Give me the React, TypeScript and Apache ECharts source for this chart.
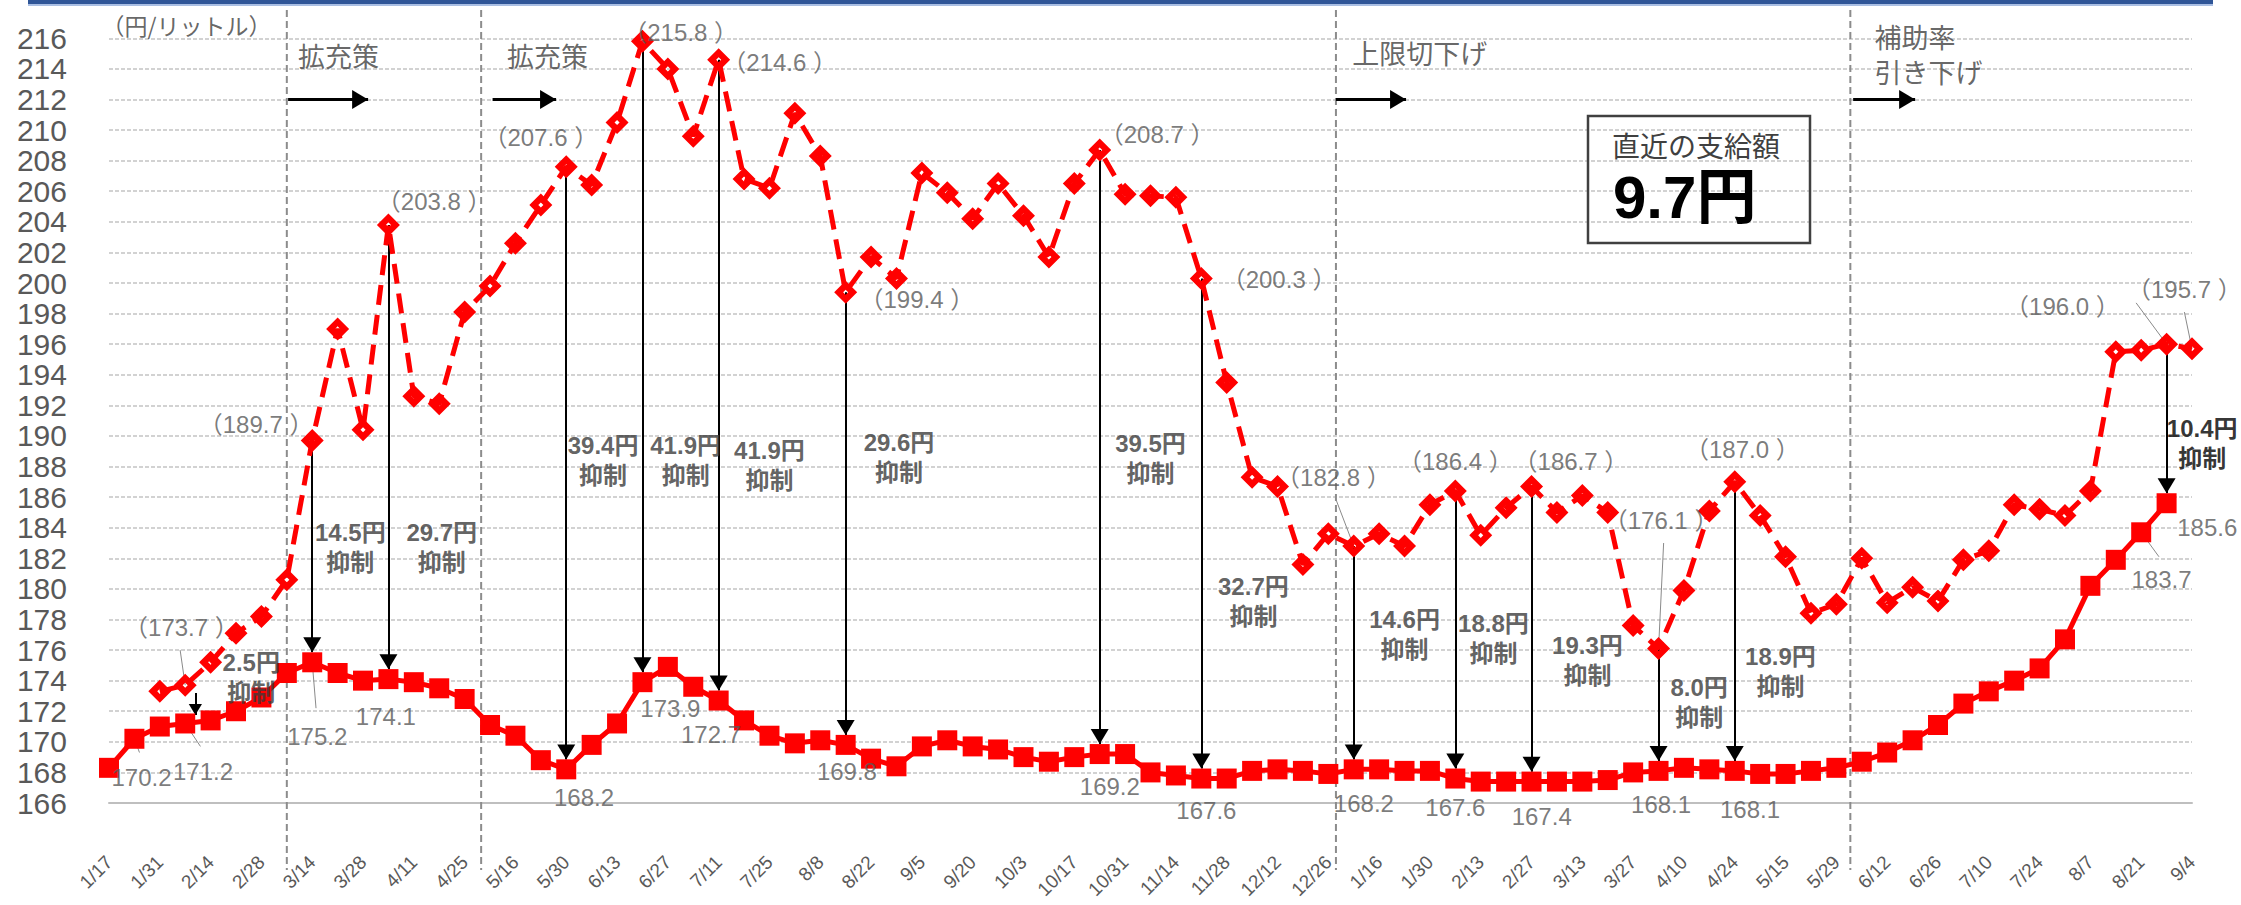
import React, { useEffect, useRef } from 'react';
import * as echarts from 'echarts';

// ---------- data ----------
const dates = ['1/17','1/24','1/31','2/7','2/14','2/21','2/28','3/7','3/14','3/22','3/28','4/4','4/11','4/18','4/25','5/9','5/16','5/23','5/30','6/6','6/13','6/20','6/27','7/4','7/11','7/19','7/25','8/1','8/8','8/15','8/22','8/29','9/5','9/12','9/20','9/26','10/3','10/11','10/17','10/24','10/31','11/7','11/14','11/21','11/28','12/5','12/12','12/19','12/26','1/10','1/16','1/23','1/30','2/6','2/13','2/20','2/27','3/6','3/13','3/20','3/27','4/3','4/10','4/17','4/24','5/8','5/15','5/22','5/29','6/5','6/12','6/19','6/26','7/3','7/10','7/18','7/24','7/31','8/7','8/14','8/21','8/28','9/4'];

// price without subsidy (dashed)
const priceWithout = [null, null, 173.3, 173.7, 175.2, 177.1, 178.2, 180.6, 189.7, 197.0, 190.4, 203.8, 192.6, 192.1, 198.1, 199.8, 202.6, 205.1, 207.6, 206.4, 210.5, 215.8, 214.0, 209.6, 214.6, 206.8, 206.2, 211.1, 208.3, 199.4, 201.7, 200.3, 207.2, 205.9, 204.2, 206.5, 204.4, 201.7, 206.5, 208.7, 205.8, 205.7, 205.6, 200.3, 193.5, 187.3, 186.7, 181.6, 183.6, 182.8, 183.6, 182.8, 185.5, 186.4, 183.5, 185.3, 186.7, 185.0, 186.1, 185.0, 177.6, 176.1, 179.9, 185.1, 187.0, 184.8, 182.1, 178.4, 179.0, 182.0, 179.1, 180.1, 179.2, 181.9, 182.5, 185.5, 185.2, 184.8, 186.4, 195.5, 195.6, 196.0, 195.7];

// actual retail price (solid)
const priceActual = [168.3, 170.2, 171.0, 171.2, 171.4, 172.0, 172.9, 174.5, 175.2, 174.5, 174.0, 174.1, 173.9, 173.5, 172.8, 171.1, 170.4, 168.8, 168.2, 169.8, 171.2, 173.9, 174.9, 173.6, 172.7, 171.4, 170.4, 169.9, 170.1, 169.8, 168.9, 168.4, 169.7, 170.1, 169.7, 169.5, 169.0, 168.7, 169.0, 169.2, 169.2, 168.0, 167.8, 167.6, 167.6, 168.1, 168.2, 168.1, 167.9, 168.2, 168.2, 168.1, 168.1, 167.6, 167.4, 167.4, 167.4, 167.4, 167.4, 167.5, 168.0, 168.1, 168.3, 168.2, 168.1, 167.9, 167.9, 168.1, 168.3, 168.7, 169.3, 170.1, 171.1, 172.5, 173.3, 174.0, 174.8, 176.7, 180.2, 181.9, 183.7, 185.6, null];

const yTicks = { min: 166, max: 216, step: 2 };
const arrowPoints = [8, 11, 18, 21, 24, 29, 39, 43, 49, 53, 56, 61, 64, 81];
const latestPayment = 9.7;

const phases = ['拡充策', '拡充策', '上限切下げ', '補助率\n引き下げ'];

// ---------- layout of annotations (axis coordinates) ----------
const separatorsAt = [7.0, 14.65, 48.3, 68.55];
const phaseTextPos = [[7.44, 214.9], [15.67, 214.9], [48.94, 215.1], [69.5, 215.0]];
const phaseArrowPos = [[7.05, 10.2], [15.1, 17.6], [48.3, 51.06], [68.66, 71.1]];

const dashedNotePos = [
  { i: 3, x: 2.85, y: 177.45 }, { i: 8, x: 5.79, y: 190.74 }, { i: 11, x: 12.8, y: 205.3 },
  { i: 18, x: 17.0, y: 209.5 }, { i: 21, x: 22.5, y: 216.4 }, { i: 24, x: 26.4, y: 214.4 },
  { i: 29, x: 31.8, y: 198.9 }, { i: 39, x: 41.26, y: 209.7 }, { i: 43, x: 46.06, y: 200.2 },
  { i: 49, x: 48.2, y: 187.3 }, { i: 53, x: 53.0, y: 188.3 }, { i: 56, x: 57.55, y: 188.3 },
  { i: 61, x: 61.1, y: 184.5 }, { i: 64, x: 64.3, y: 189.1 }, { i: 81, x: 76.9, y: 198.45 },
  { i: 82, x: 81.7, y: 199.6 },
];
const solidNotePos = [
  { i: 1, x: 1.28, y: 167.7 }, { i: 3, x: 3.7, y: 168.05 }, { i: 8, x: 8.2, y: 170.35 },
  { i: 11, x: 10.9, y: 171.65 }, { i: 18, x: 18.7, y: 166.35 }, { i: 21, x: 22.1, y: 172.2 },
  { i: 24, x: 23.7, y: 170.5 }, { i: 29, x: 29.05, y: 168.05 }, { i: 39, x: 39.4, y: 167.1 },
  { i: 43, x: 43.2, y: 165.5 }, { i: 49, x: 49.4, y: 166.0 }, { i: 53, x: 53.0, y: 165.7 },
  { i: 56, x: 56.4, y: 165.1 }, { i: 61, x: 61.1, y: 165.9 }, { i: 64, x: 64.6, y: 165.6 },
  { i: 80, x: 80.8, y: 180.6 }, { i: 81, x: 82.6, y: 184.0 },
];
const gapNotePos = [
  { i: 3, x: 5.6, y: 174.2 }, { i: 8, x: 9.5, y: 182.7 }, { i: 11, x: 13.1, y: 182.7 },
  { i: 18, x: 19.45, y: 188.4 }, { i: 21, x: 22.7, y: 188.4 }, { i: 24, x: 26.0, y: 188.1 },
  { i: 29, x: 31.1, y: 188.6 }, { i: 39, x: 41.0, y: 188.5 }, { i: 43, x: 45.05, y: 179.15 },
  { i: 49, x: 51.0, y: 177.0 }, { i: 53, x: 54.5, y: 176.75 }, { i: 56, x: 58.2, y: 175.3 },
  { i: 61, x: 62.6, y: 172.6 }, { i: 64, x: 65.8, y: 174.6 }, { i: 81, x: 82.4, y: 189.5, strong: true },
];
// leader lines: from label position to a data point (series d = dashed, s = solid)
const leaderPos = [
  { from: [2.8, 176.0], i: 3, s: 'd' }, { from: [1.2, 169.3], i: 1, s: 's' },
  { from: [3.6, 169.7], i: 3, s: 's' }, { from: [8.15, 172.2], i: 8, s: 's' },
  { from: [48.3, 185.85], i: 49, s: 'd' }, { from: [61.2, 183.0], i: 61, s: 'd' },
  { from: [79.8, 198.7], i: 81, s: 'd' }, { from: [81.7, 198.1], i: 82, s: 'd' },
  { from: [80.7, 182.1], i: 80, s: 's' },
];

const NUM_FONT = "'Liberation Sans', 'Noto Sans CJK JP', sans-serif";
const JP_FONT = "'Noto Sans CJK JP', 'Liberation Sans', sans-serif";
const RED = '#FF0000';
const DIAMOND = 'path://M0,-10L10,0L0,10L-10,0Z M0,-2.2L-2.2,0L0,2.2L2.2,0Z';
const HEAD = 'path://M0,0 M20,0 M10,10 L16,20 L4,20 Z';

function buildOption() {
  const labels: any[] = [];
  const add = (x: number, y: number, text: string, style: any) => {
    labels.push({ value: [x, y], label: { show: true, position: 'inside', formatter: text, ...style } });
  };
  const valStyle = { fontSize: 24, color: '#595959', fontFamily: NUM_FONT };
  dashedNotePos.forEach((n) => add(n.x, n.y, `（${(priceWithout[n.i] as number).toFixed(1)} ）`, valStyle));
  solidNotePos.forEach((n) => add(n.x, n.y, (priceActual[n.i] as number).toFixed(1), valStyle));
  gapNotePos.forEach((n) => {
    const gap = ((priceWithout[n.i] as number) - (priceActual[n.i] as number)).toFixed(1);
    add(n.x, n.y, `${gap}円\n抑制`, {
      fontSize: 24, lineHeight: 30, fontWeight: 'bold', fontFamily: NUM_FONT,
      color: n.strong ? '#000' : '#3a3a3a',
    });
  });
  phases.forEach((p, k) => add(phaseTextPos[k][0], phaseTextPos[k][1], p, {
    fontSize: 27, lineHeight: 35, color: '#404040', fontFamily: JP_FONT, align: 'left',
  }));
  add(-0.3, 216.87, '（円/リットル）', { fontSize: 23, color: '#404040', fontFamily: JP_FONT, align: 'left' });

  const arrows: any[] = arrowPoints.map((i) => ({
    coords: [[i, priceWithout[i] as number], [i, (priceActual[i] as number) + 0.65]],
  }));
  arrows.push({ coords: [[3.4, 173.2], [3.4, (priceActual[3] as number) + 0.55]], symbolSize: 22 });

  const phaseArrows = phaseArrowPos.map(([a, b]) => ({ coords: [[a, 212], [b, 212]] }));

  const leaders = leaderPos.map((l) => ({
    coords: [l.from, [l.i, (l.s === 'd' ? priceWithout[l.i] : priceActual[l.i]) as number]],
  }));

  return {
    animation: false,
    backgroundColor: '#fff',
    textStyle: { fontFamily: NUM_FONT },
    grid: { left: 109, right: 49, top: 38.3, bottom: 102, containLabel: false, outerBoundsMode: 'none' },
    xAxis: [
      {
        type: 'category', data: dates, boundaryGap: false,
        axisLine: { lineStyle: { color: '#bfbfbf', width: 2 } },
        axisTick: { show: false },
        axisLabel: { interval: 1, rotate: 45, fontSize: 19, color: '#595959', margin: 56, fontFamily: NUM_FONT },
        splitLine: { show: false },
      },
      { type: 'value', min: 0, max: dates.length - 1, show: false },
    ],
    yAxis: {
      type: 'value', min: yTicks.min, max: yTicks.max, interval: yTicks.step,
      axisLine: { show: false }, axisTick: { show: false },
      axisLabel: { fontSize: 30, color: '#595959', margin: 42, fontFamily: NUM_FONT },
      splitLine: { lineStyle: { color: '#c4c4c4', width: 1.5, type: [4, 2] } },
    },
    series: [
      {
        type: 'line', name: '補助なし', data: priceWithout, xAxisIndex: 0, yAxisIndex: 0,
        symbol: DIAMOND, symbolSize: 23, showAllSymbol: true,
        lineStyle: { color: RED, width: 5, type: [20, 10] }, itemStyle: { color: RED }, z: 3,
      },
      {
        type: 'line', name: '実際の価格', data: priceActual, xAxisIndex: 0, yAxisIndex: 0,
        symbol: 'rect', symbolSize: 20, showAllSymbol: true,
        lineStyle: { color: RED, width: 5 }, itemStyle: { color: RED }, z: 3,
      },
      {
        type: 'lines', coordinateSystem: 'cartesian2d', xAxisIndex: 1, yAxisIndex: 0,
        symbol: ['none', HEAD], symbolSize: 30, silent: true, z: 2,
        lineStyle: { color: '#000', width: 2, opacity: 1, curveness: 0 }, data: arrows,
      },
      {
        type: 'lines', coordinateSystem: 'cartesian2d', xAxisIndex: 1, yAxisIndex: 0,
        symbol: ['none', HEAD], symbolSize: 32, silent: true, z: 4,
        lineStyle: { color: '#000', width: 3, opacity: 1, curveness: 0 }, data: phaseArrows,
      },
      {
        type: 'lines', coordinateSystem: 'cartesian2d', xAxisIndex: 1, yAxisIndex: 0,
        symbol: 'none', silent: true, z: 2,
        lineStyle: { color: '#8a8a8a', width: 1, opacity: 1, curveness: 0 }, data: leaders,
      },
      {
        type: 'scatter', xAxisIndex: 1, yAxisIndex: 0, symbol: 'circle', symbolSize: 1,
        itemStyle: { color: 'rgba(0,0,0,0)' }, silent: true, clip: false, z: 10, data: labels,
      },
    ],
  };
}

export default function App() {
  const ref = useRef<HTMLDivElement>(null);
  useEffect(() => {
    const chart = echarts.init(ref.current as HTMLDivElement, null, { renderer: 'svg' });
    chart.setOption(buildOption() as any);
    const seps = separatorsAt.map((v) => {
      const x = chart.convertToPixel({ xAxisIndex: 1 } as any, v) as unknown as number;
      return {
        type: 'line', z: 1, silent: true,
        shape: { x1: x, y1: 10, x2: x, y2: 870 },
        style: { stroke: '#8c8c8c', lineWidth: 2, lineDash: [7, 4] },
      };
    });
    const staticG = [
      { type: 'rect', z: 5, shape: { x: 28, y: 0, width: 2185, height: 4 }, style: { fill: '#2F5597' } },
      { type: 'rect', z: 5, shape: { x: 28, y: 4, width: 2185, height: 2 }, style: { fill: '#A9BEE3' } },
      { type: 'rect', z: 5, shape: { x: 1588, y: 116, width: 222, height: 127 }, style: { fill: 'none', stroke: '#404040', lineWidth: 2.5 } },
      { type: 'text', z: 5, x: 1612, y: 145, style: { text: '直近の支給額', fill: '#404040', fontSize: 28, fontFamily: JP_FONT, verticalAlign: 'middle', align: 'left' } },
      { type: 'text', z: 5, x: 1613, y: 197, style: { text: `${latestPayment.toFixed(1)}円`, fill: '#000', fontSize: 60, fontWeight: 'bold', fontFamily: NUM_FONT, verticalAlign: 'middle', align: 'left' } },
    ];
    chart.setOption({ graphic: [...staticG, ...seps] } as any);
    return () => chart.dispose();
  }, []);
  return <div ref={ref} style={{ position: 'fixed', left: 0, top: 0, width: 2241, height: 905, background: '#fff' }} />;
}
